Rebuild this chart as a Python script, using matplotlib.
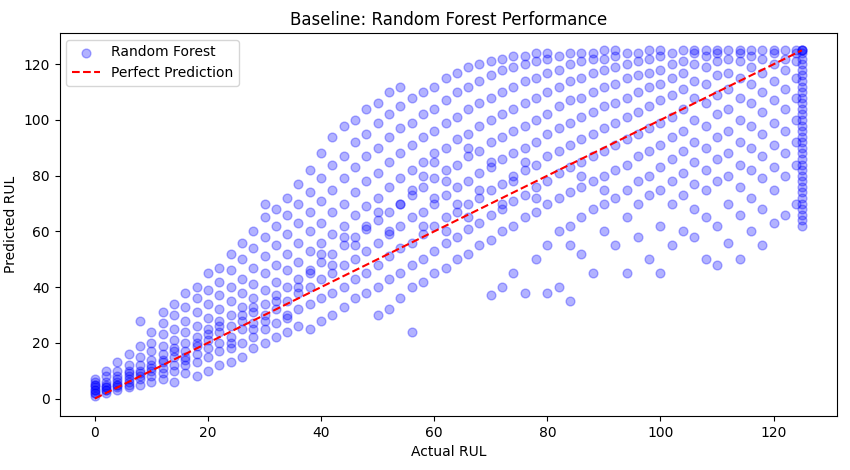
import matplotlib
matplotlib.use("Agg")
import matplotlib.pyplot as plt

actual_values = list(range(0, 125, 2)) + [125]
predicted_by_actual = [
[1,2,3,4,5,6,7,3,2,5],
[2,3,4,5,6,8,10,4,3],
[3,4,5,7,8,10,13,6,5],
[4,6,7,9,10,12,16,8,5],
[5,7,9,10,12,15,19,28,8],
[6,8,10,12,14,17,20,24,11],
[7,9,11,13,16,19,23,27,31,14],
[6,10,12,15,18,21,25,30,34,17],
[9,12,14,17,20,24,28,33,38,15],
[8,13,16,19,22,26,31,36,40,20],
[10,15,18,21,25,29,34,39,45,23],
[12,17,20,24,28,32,37,42,47,26],
[13,18,22,26,30,35,40,46,52,20],
[15,20,25,28,33,38,43,50,56,30],
[18,22,27,31,36,41,47,54,60,33,25],
[20,25,30,34,39,45,51,58,65,70,28],
[22,27,32,37,42,48,55,62,68,35],
[24,30,35,40,46,52,59,66,72,29],
[26,32,38,43,49,56,63,70,77,40],
[25,34,40,46,53,60,67,74,82,45],
[28,36,43,49,56,63,71,79,88,52],
[30,38,45,52,59,67,75,84,94,48],
[33,40,48,55,62,70,79,87,98,58],
[36,43,50,58,66,74,83,92,100,55],
[38,45,53,61,69,78,87,95,104,62],
[30,40,48,56,64,72,81,90,99,106,67],
[32,43,51,59,67,76,85,94,102,110,60],
[36,45,54,62,70,79,88,97,105,112,70],
[24,40,48,56,65,73,82,91,99,108,75],
[42,50,59,67,76,85,94,102,110,80,62],
[45,53,62,70,79,88,96,104,112,72,85],
[47,56,65,73,82,90,99,107,115,60,78],
[50,58,67,76,84,93,101,110,117,70],
[52,61,70,78,87,95,104,112,119,65,90],
[55,63,72,81,89,98,106,114,120,75],
[37,57,66,75,83,92,100,108,116,121,85],
[40,60,68,77,86,94,102,110,118,122,70],
[45,62,71,80,88,96,104,112,119,123,78],
[38,65,73,82,90,98,106,114,120,123,85],
[50,67,76,84,92,100,108,115,121,124,72],
[38,55,70,78,87,95,102,110,117,122,124],
[40,60,72,81,89,97,105,112,118,123],
[35,62,74,83,91,99,107,114,120,124,55],
[52,65,76,85,93,101,108,115,121,124,80],
[45,68,78,87,95,103,110,117,122,124],
[60,70,80,89,97,105,112,118,122,125,75],
[55,72,82,91,99,106,113,119,123,125],
[45,65,75,84,93,101,108,115,120,124],
[58,70,78,87,95,103,110,116,121,124],
[50,73,80,89,97,105,112,117,122,125],
[45,62,75,83,91,99,107,113,118,123,125],
[55,70,78,86,94,101,109,115,120,124],
[60,73,81,89,96,104,111,117,121,125],
[58,68,77,85,92,100,108,114,120,124,125],
[50,65,75,82,90,98,106,113,119,123,125],
[48,62,78,86,94,102,109,116,121,124,125],
[56,70,80,88,96,104,111,117,122,125],
[50,66,76,84,92,100,108,115,121,124,125],
[60,72,82,90,98,106,113,119,123,125],
[55,68,79,87,95,103,110,117,122,125],
[63,75,83,91,99,107,114,120,124,125],
[66,80,88,96,104,111,118,122,125],
[70,84,92,100,108,115,121,124,125],
[62,64,66,68,70,72,74,76,78,80,82,84,86,88,90,92,94,96,98,100,102,104,106,108,110,112,114,116,118,120,122,124,125,125,125],
]

xs, ys = [], []
for a, preds in zip(actual_values, predicted_by_actual):
    for p in preds:
        xs.append(a)
        ys.append(p)

fig, ax = plt.subplots(figsize=(8.5, 4.7), dpi=100)
fig.subplots_adjust(left=0.07, right=0.985, top=0.93, bottom=0.115)
ax.scatter(xs, ys, color="blue", alpha=0.3, s=40, label="Random Forest")
lo, hi = min(actual_values), max(actual_values)
ax.plot([lo, hi], [lo, hi], "r--", label="Perfect Prediction")
ax.set_xlabel("Actual RUL")
ax.set_ylabel("Predicted RUL")
ax.set_title("Baseline: Random Forest Performance")
ax.legend(loc="upper left")
fig.savefig("out.png")
